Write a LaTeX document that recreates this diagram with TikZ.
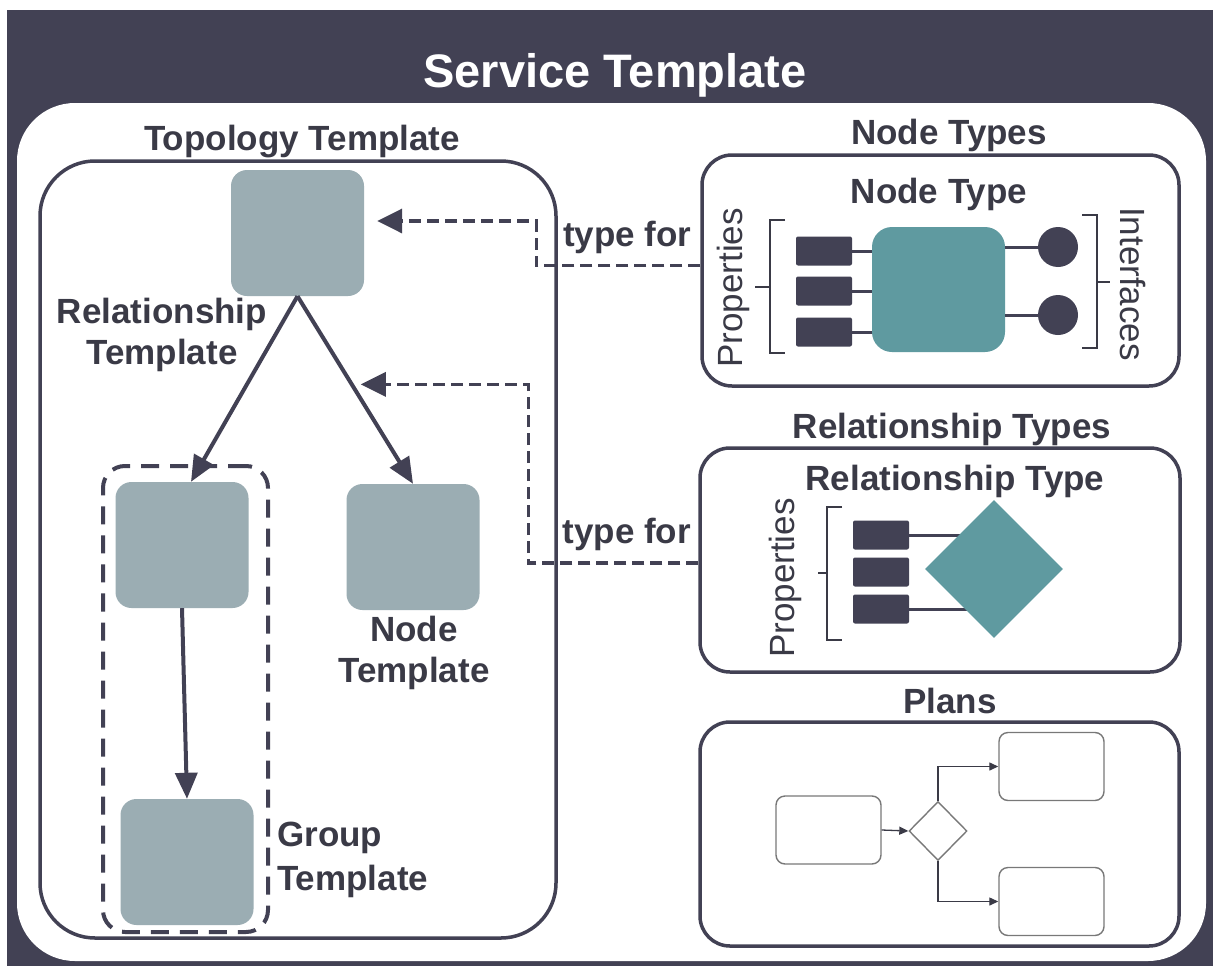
\documentclass[tikz,border=0pt]{standalone}
\usepackage{fontspec}
\setmainfont{Liberation Sans}
\usetikzlibrary{shapes.geometric, arrows.meta, positioning, calc}
\definecolor{slate}{RGB}{66,65,84}
\definecolor{tgray}{RGB}{155,173,179}
\definecolor{tealc}{RGB}{95,154,160}
\definecolor{ink}{RGB}{58,58,70}
\definecolor{thin}{RGB}{120,120,120}

\begin{document}
\begin{tikzpicture}[x=1pt, y=-1pt,
    panel/.style={draw=slate, line width=3.5pt, rounded corners=30pt},
    tmpl/.style={fill=tgray, rounded corners=16pt, minimum width=133pt, minimum height=126pt, inner sep=0pt},
    prop/.style={fill=slate, rounded corners=2pt, minimum width=56pt, minimum height=29pt, inner sep=0pt},
    iface/.style={circle, fill=slate, minimum size=40pt, inner sep=0pt},
    lbl/.style={font=\fontsize{35}{41}\selectfont\bfseries, text=ink, inner sep=0pt},
    side/.style={font=\fontsize{35}{41}\selectfont, text=ink, inner sep=0pt},
    conn/.style={draw=slate, line width=4pt, -{Triangle[length=26pt,width=22pt]}},
    typefor/.style={draw=slate, line width=3.5pt, dash pattern=on 12pt off 6pt, -{Triangle[length=25pt,width=24pt]}},
    wire/.style={draw=slate, line width=3pt},
    brk/.style={draw=ink, line width=2.2pt},
    flow/.style={draw=thin, line width=1.4pt, rounded corners=9pt, minimum width=105pt, minimum height=68pt, inner sep=0pt},
    flowarr/.style={draw=ink, line width=1.3pt, -{Triangle[length=9pt,width=8pt]}}
]
    \useasboundingbox (0,0) rectangle (1213,969);
    \fill[white] (0,0) rectangle (1213,969);
    \fill[slate] (7,10) rectangle (1213,966);
    \fill[white, rounded corners=58pt] (17,103) rectangle (1206,961);
    \node[font=\fontsize{47}{56}\selectfont\bfseries, text=white, anchor=base] (title) at (615,87) {Service Template};

    % topology template
    \node[draw=slate, line width=3.5pt, rounded corners=55pt, minimum width=516pt, minimum height=777pt] (topo) at (298,549.5) {};
    \node[lbl, anchor=base] (topolbl) at (302,150) {Topology Template};
    \node[draw=slate, line width=4pt, dash pattern=on 18pt off 11pt, rounded corners=22pt, minimum width=165pt, minimum height=466pt] (grp) at (185.5,699) {};
    \node[tmpl] (rt)    at (297.5,233) {};
    \node[tmpl] (grpA)  at (182,545) {};
    \node[tmpl] (ntmpl) at (413,547) {};
    \node[tmpl] (grpB)  at (187,862) {};
    \node[lbl, align=center] (rellbl) at (162,335) {Relationship\\Template};
    \node[lbl, align=center] (ntlbl) at (414,653) {Node\\Template};
    \node[lbl, align=left, anchor=west] (grplbl) at (277,860) {Group\\[3pt]Template};

    \draw[conn] (rt.south) -- ([xshift=9pt]grpA.north);
    \draw[conn] (rt.south) -- (ntmpl.north);
    \draw[conn] (grpA.south) -- (grpB.north);
    \path (rt.south) -- (ntmpl.north) coordinate[pos=0.47] (relon);
    \coordinate (relmid) at ([xshift=9pt]relon);

    % node types
    \node[lbl, anchor=base] (ntslbl) at (949,144) {Node Types};
    \node[panel, minimum width=477pt, minimum height=231pt] (ntbox) at (940.5,270.5) {};
    \node[lbl, anchor=base] (ntylbl) at (939,203) {Node Type};
    \node[fill=tealc, rounded corners=20pt, minimum width=133pt, minimum height=125pt] (ncore) at (938.5,289.5) {};
    \foreach \i/\y in {1/251,2/291,3/332} {
        \node[prop] (np\i) at (824,\y) {};
        \draw[wire] (np\i.east) -- (np\i.east -| ncore.west);
    }
    \node[iface] (ni1) at (1058,247) {};
    \node[iface] (ni2) at (1058,315) {};
    \draw[wire] (ni1.west -| ncore.east) -- (ni1.west);
    \draw[wire] (ni2.west -| ncore.east) -- (ni2.west);
    \draw[brk] (785,220) -- (770,220) -- (770,353) -- (785,353) (770,287) -- (755,287);
    \draw[brk] (1082,215) -- (1097,215) -- (1097,348) -- (1082,348) (1097,282) -- (1110,282);
    \node[side, rotate=90] (nprops) at (733,288) {Properties};
    \node[side, rotate=-90] (nifaces) at (1133,284) {Interfaces};

    % relationship types
    \node[lbl, anchor=base] (rtslbl) at (952,438) {Relationship Types};
    \node[panel, minimum width=480pt, minimum height=224pt] (rtbox) at (940,560) {};
    \node[lbl, anchor=base] (rtylbl) at (955,490) {Relationship Type};
    \coordinate (rdc) at (994,569);
    \foreach \i/\y in {1/535,2/572,3/609}
        \node[prop] (rp\i) at (881,\y) {};
    \draw[wire] (rp1.east) -- (rp1.east -| rdc);
    \draw[wire] (rp3.east) -- (rp3.east -| rdc);
    \node[diamond, fill=tealc, minimum width=138pt, minimum height=138pt, inner sep=0pt] (rcore) at (rdc) {};
    \draw[brk] (842,507) -- (827,507) -- (827,640) -- (842,640) (827,573) -- (818,573);
    \node[side, rotate=90] (rprops) at (785,578) {Properties};

    % plans
    \node[lbl, anchor=base] (pllbl) at (950,713) {Plans};
    \node[panel, minimum width=479pt, minimum height=224pt] (plbox) at (939.5,834) {};
    \node[flow] (pa) at (828.5,830) {};
    \node[draw=thin, line width=1.4pt, diamond, minimum width=58pt, minimum height=59pt, inner sep=0pt] (pd) at (938,831) {};
    \node[flow] (pb) at (1051.5,766.5) {};
    \node[flow] (pc) at (1051.5,901.5) {};
    \draw[flowarr] (pa.east) -- (pd.west);
    \draw[flowarr] (pd.north) |- (pb.west);
    \draw[flowarr] (pd.south) |- (pc.west);

    % type for links
    \draw[typefor] ([yshift=5pt]ntbox.west) -- node[lbl, above=10pt, pos=0.445] (tf1) {type for} ++(-164,0) |- ([xshift=13pt,yshift=12pt]rt.east);
    \draw[typefor] ([yshift=-3pt]rtbox.west) -- node[lbl, above=10pt, pos=0.42] (tf2) {type for} ++(-170,0) |- (relmid);
\end{tikzpicture}
\end{document}
